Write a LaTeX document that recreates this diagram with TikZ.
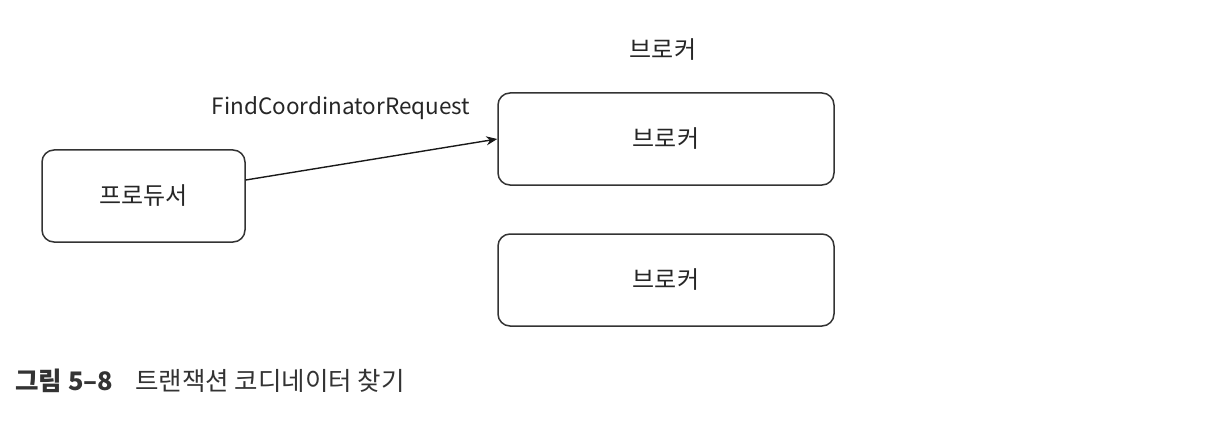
\documentclass[tikz,border=0pt]{standalone}
\usepackage{fontspec}
\setmainfont{Noto Sans CJK KR}
\usetikzlibrary{arrows.meta}
\definecolor{edge}{HTML}{333333}
\begin{document}
\begin{tikzpicture}[x=1pt,y=-1pt,
  box/.style={draw=edge,line width=1.5pt,rounded corners=12pt,inner sep=0pt},
  lbl/.style={font=\fontsize{24}{28}\selectfont,text=black!85},
  conn/.style={draw=black!90,line width=1.4pt,-{Stealth[length=11pt,width=9pt]}}]
\useasboundingbox (0,0) rectangle (1214,422);
\node[box,minimum width=203pt,minimum height=92pt,lbl] (prod) at (143.5,196) {프로듀서};
\node[box,minimum width=336pt,minimum height=92pt,lbl] (b1) at (666,139) {브로커};
\node[box,minimum width=336pt,minimum height=92pt,lbl] (b2) at (666,280) {브로커};
\node[lbl] (title) at (663,50) {브로커};
\draw[conn] ([yshift=16pt]prod.east) -- (b1.west);
\node[font=\fontsize{22.5}{26}\selectfont,text=black!85] (req) at (341,108) {FindCoordinatorRequest};
\node[anchor=west,font=\fontsize{25.5}{30}\selectfont,text=black!80] (cap) at (12,381) {\textbf{그림 5–8}\hspace{22pt}트랜잭션 코디네이터 찾기};
\end{tikzpicture}
\end{document}
